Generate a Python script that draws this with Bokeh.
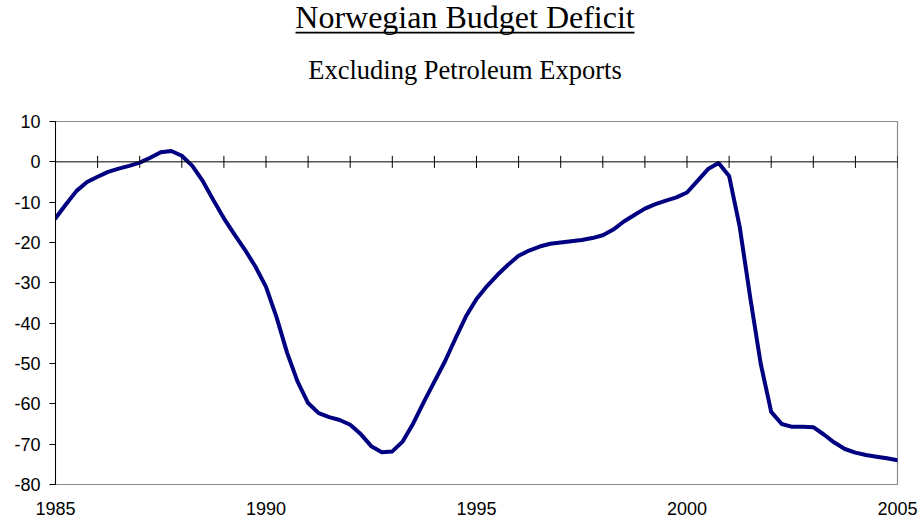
from bokeh.plotting import figure
from bokeh.models import Range1d, FixedTicker, Span, Label
from bokeh.layouts import column
from bokeh.embed import file_html
from bokeh.resources import INLINE

title_text = "Norwegian Budget Deficit"
subtitle_text = "Excluding Petroleum Exports"

# quarterly observations
time = [
    1985.00, 1985.25, 1985.50, 1985.75, 1986.00, 1986.25, 1986.50, 1986.75,
    1987.00, 1987.25, 1987.50, 1987.75, 1988.00, 1988.25, 1988.50, 1988.75,
    1989.00, 1989.25, 1989.50, 1989.75, 1990.00, 1990.25, 1990.50, 1990.75,
    1991.00, 1991.25, 1991.50, 1991.75, 1992.00, 1992.25, 1992.50, 1992.75,
    1993.00, 1993.25, 1993.50, 1993.75, 1994.00, 1994.25, 1994.50, 1994.75,
    1995.00, 1995.25, 1995.50, 1995.75, 1996.00, 1996.25, 1996.50, 1996.75,
    1997.00, 1997.25, 1997.50, 1997.75, 1998.00, 1998.25, 1998.50, 1998.75,
    1999.00, 1999.25, 1999.50, 1999.75, 2000.00, 2000.25, 2000.50, 2000.75,
    2001.00, 2001.25, 2001.50, 2001.75, 2002.00, 2002.25, 2002.50, 2002.75,
    2003.00, 2003.25, 2003.50, 2003.75, 2004.00, 2004.25, 2004.50, 2004.75,
    2005.00,
]
deficit = [
    -14.0, -10.5, -7.2, -5.0, -3.7, -2.5, -1.7, -1.0,
    -0.2, 1.0, 2.4, 2.7, 1.5, -1.0, -4.8, -9.5,
    -14.0, -18.0, -21.8, -26.0, -31.0, -38.5, -47.3, -54.5,
    -59.8, -62.3, -63.3, -64.0, -65.2, -67.5, -70.5, -72.0,
    -71.8, -69.3, -64.8, -59.5, -54.5, -49.5, -43.8, -38.3,
    -34.0, -30.8, -28.0, -25.5, -23.3, -22.0, -21.0, -20.3,
    -20.0, -19.7, -19.4, -18.9, -18.2, -16.8, -14.8, -13.2,
    -11.6, -10.5, -9.6, -8.8, -7.6, -4.7, -1.8, -0.3,
    -3.5, -16.0, -33.5, -50.0, -62.0, -65.0, -65.7, -65.7,
    -65.8, -67.6, -69.6, -71.2, -72.1, -72.7, -73.1, -73.5,
    -74.0,
]

y_ticks = [-80, -70, -60, -50, -40, -30, -20, -10, 0, 10]
y_tick_labels = ["-80", "-70", "-60", "-50", "-40", "-30", "-20", "-10", "0", "10"]
x_label_years = [1985, 1990, 1995, 2000, 2005]
x_tick_labels = ["1985", "1990", "1995", "2000", "2005"]
year_marks = [1985, 1986, 1987, 1988, 1989, 1990, 1991, 1992, 1993, 1994, 1995,
              1996, 1997, 1998, 1999, 2000, 2001, 2002, 2003, 2004, 2005]

W = 921
SERIF = "Liberation Serif"
SANS = "Liberation Sans"
FRAME_L = 55
FRAME_R = 24

# ---- heading figure: its frame is aligned with the chart frame by the column
# layout, so map its x range so that data units equal window pixels ----
HEAD_H = 100
head = figure(width=W, height=HEAD_H, x_range=Range1d(FRAME_L, W - FRAME_R),
              y_range=Range1d(0, HEAD_H),
              output_backend="svg", toolbar_location=None,
              min_border_left=0, min_border_right=0, min_border_top=0, min_border_bottom=0,
              x_axis_location=None, y_axis_location=None)
head.grid.visible = False
head.outline_line_color = None
head.add_layout(Label(x=464.5, y=HEAD_H - 16, text=title_text, text_font=SERIF,
                      text_font_size="32px", text_align="center", text_baseline="alphabetic",
                      text_color="black"))
head.add_layout(Label(x=464.5, y=HEAD_H - 69.5, text=subtitle_text, text_font=SERIF,
                      text_font_size="26.5px", text_align="center", text_baseline="alphabetic",
                      text_color="black"))
head.segment(x0=[295], y0=[HEAD_H - 32.2], x1=[634], y1=[HEAD_H - 32.2],
             line_color="black", line_width=1.8)

# ---- main chart ----
p = figure(width=W, height=523 - HEAD_H, x_range=Range1d(1985, 2005), y_range=Range1d(-80, 10),
           output_backend="svg", toolbar_location=None,
           min_border_left=FRAME_L, min_border_right=FRAME_R, min_border_top=21, min_border_bottom=39)
p.grid.visible = False
p.outline_line_color = "#8c8c8c"
p.outline_line_width = 1.2

# y axis
ya = p.yaxis[0]
ya.ticker = FixedTicker(ticks=y_ticks)
ya.major_label_overrides = {v: lab for v, lab in zip(y_ticks, y_tick_labels)}
ya.major_tick_out = 6
ya.major_tick_in = 0
ya.minor_tick_out = 0
ya.minor_tick_in = 0
ya.axis_line_color = "black"
ya.major_tick_line_color = "black"
ya.major_label_text_font = SANS
ya.major_label_text_font_size = "18px"
ya.major_label_text_color = "black"
ya.major_label_standoff = 9

# x axis (labels only)
xa = p.xaxis[0]
xa.ticker = FixedTicker(ticks=x_label_years)
xa.major_label_overrides = {yr: lab for yr, lab in zip(x_label_years, x_tick_labels)}
xa.major_tick_out = 0
xa.major_tick_in = 0
xa.minor_tick_out = 0
xa.minor_tick_in = 0
xa.axis_line_color = None
xa.major_label_text_font = SANS
xa.major_label_text_font_size = "18px"
xa.major_label_text_color = "black"
xa.major_label_standoff = 17

# zero line with yearly tick marks crossing it
p.add_layout(Span(location=0, dimension="width", line_color="black", line_width=1))
p.segment(x0=year_marks, y0=[-1.5] * len(year_marks), x1=year_marks, y1=[1.5] * len(year_marks),
          line_color="black", line_width=1)

p.line(time, deficit, line_color="#000080", line_width=4, line_join="round", line_cap="round")

layout = column(head, p, spacing=0)
open("out.html", "w").write(file_html(layout, INLINE))
